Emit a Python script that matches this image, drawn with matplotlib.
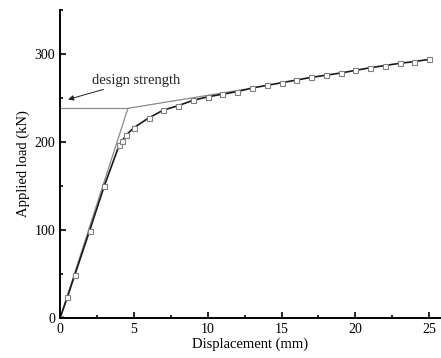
import matplotlib
matplotlib.use("Agg")
import matplotlib.pyplot as plt
from matplotlib.ticker import MultipleLocator

# datos de la curva carga-desplazamiento
desplazamiento = [0, 0.5, 1, 2, 3, 4, 4.2, 4.5, 5, 6, 7, 8, 9, 10, 11, 12, 13, 14, 15,
                  16, 17, 18, 19, 20, 21, 22, 23, 24, 25]
carga = [0, 24, 49, 99, 150, 196, 201, 208, 216, 227, 236, 241, 247, 251, 254, 257, 261,
         264, 267, 270, 273, 275.5, 278, 281, 284, 286.5, 289, 291, 293.5]

# modelo bilineal (resistencia de diseno)
bilineal_x = [0, 4.6, 12.5]
bilineal_y = [0, 238, 259.5]
horizontal_x = [0, 4.6]
horizontal_y = [238, 238]

plt.rcParams['font.family'] = ['Liberation Serif', 'DejaVu Serif']

fig = plt.figure(figsize=(4.41, 3.58), dpi=100)
ax = fig.add_axes([60 / 441, 0.111, 381 / 441, 0.8624])

ax.plot(bilineal_x, bilineal_y, color='#8a8a8a', lw=0.9)
ax.plot(horizontal_x, horizontal_y, color='#8a8a8a', lw=0.9)
ax.plot(desplazamiento, carga, color='#1a1a1a', lw=1.2, marker='s', markersize=3.6,
        markerfacecolor='white', markeredgecolor='#808080', markeredgewidth=0.8)

ax.annotate('design strength', xy=(0.55, 248), xytext=(2.15, 266), fontsize=10.5,
            color='#222222',
            arrowprops=dict(arrowstyle='-|>', color='#222222', lw=0.7,
                            mutation_scale=8, shrinkA=0, shrinkB=0))

ax.set_xlim(0, 25.8)
ax.set_ylim(0, 350)
ax.xaxis.set_major_locator(MultipleLocator(5))
ax.xaxis.set_minor_locator(MultipleLocator(2.5))
ax.yaxis.set_major_locator(MultipleLocator(100))
ax.yaxis.set_minor_locator(MultipleLocator(50))
ax.tick_params(which='both', direction='in', labelsize=10, width=1.2)
ax.tick_params(which='major', length=4)
ax.tick_params(which='minor', length=2.5)
ax.spines['top'].set_visible(False)
ax.spines['right'].set_visible(False)
ax.spines['left'].set_linewidth(1.4)
ax.spines['bottom'].set_linewidth(1.4)

ax.set_xlabel('Displacement (mm)', fontsize=10.5, labelpad=1)
ax.set_ylabel('Applied load (kN)', fontsize=10.5, labelpad=3)

fig.savefig('out.png', dpi=100)
